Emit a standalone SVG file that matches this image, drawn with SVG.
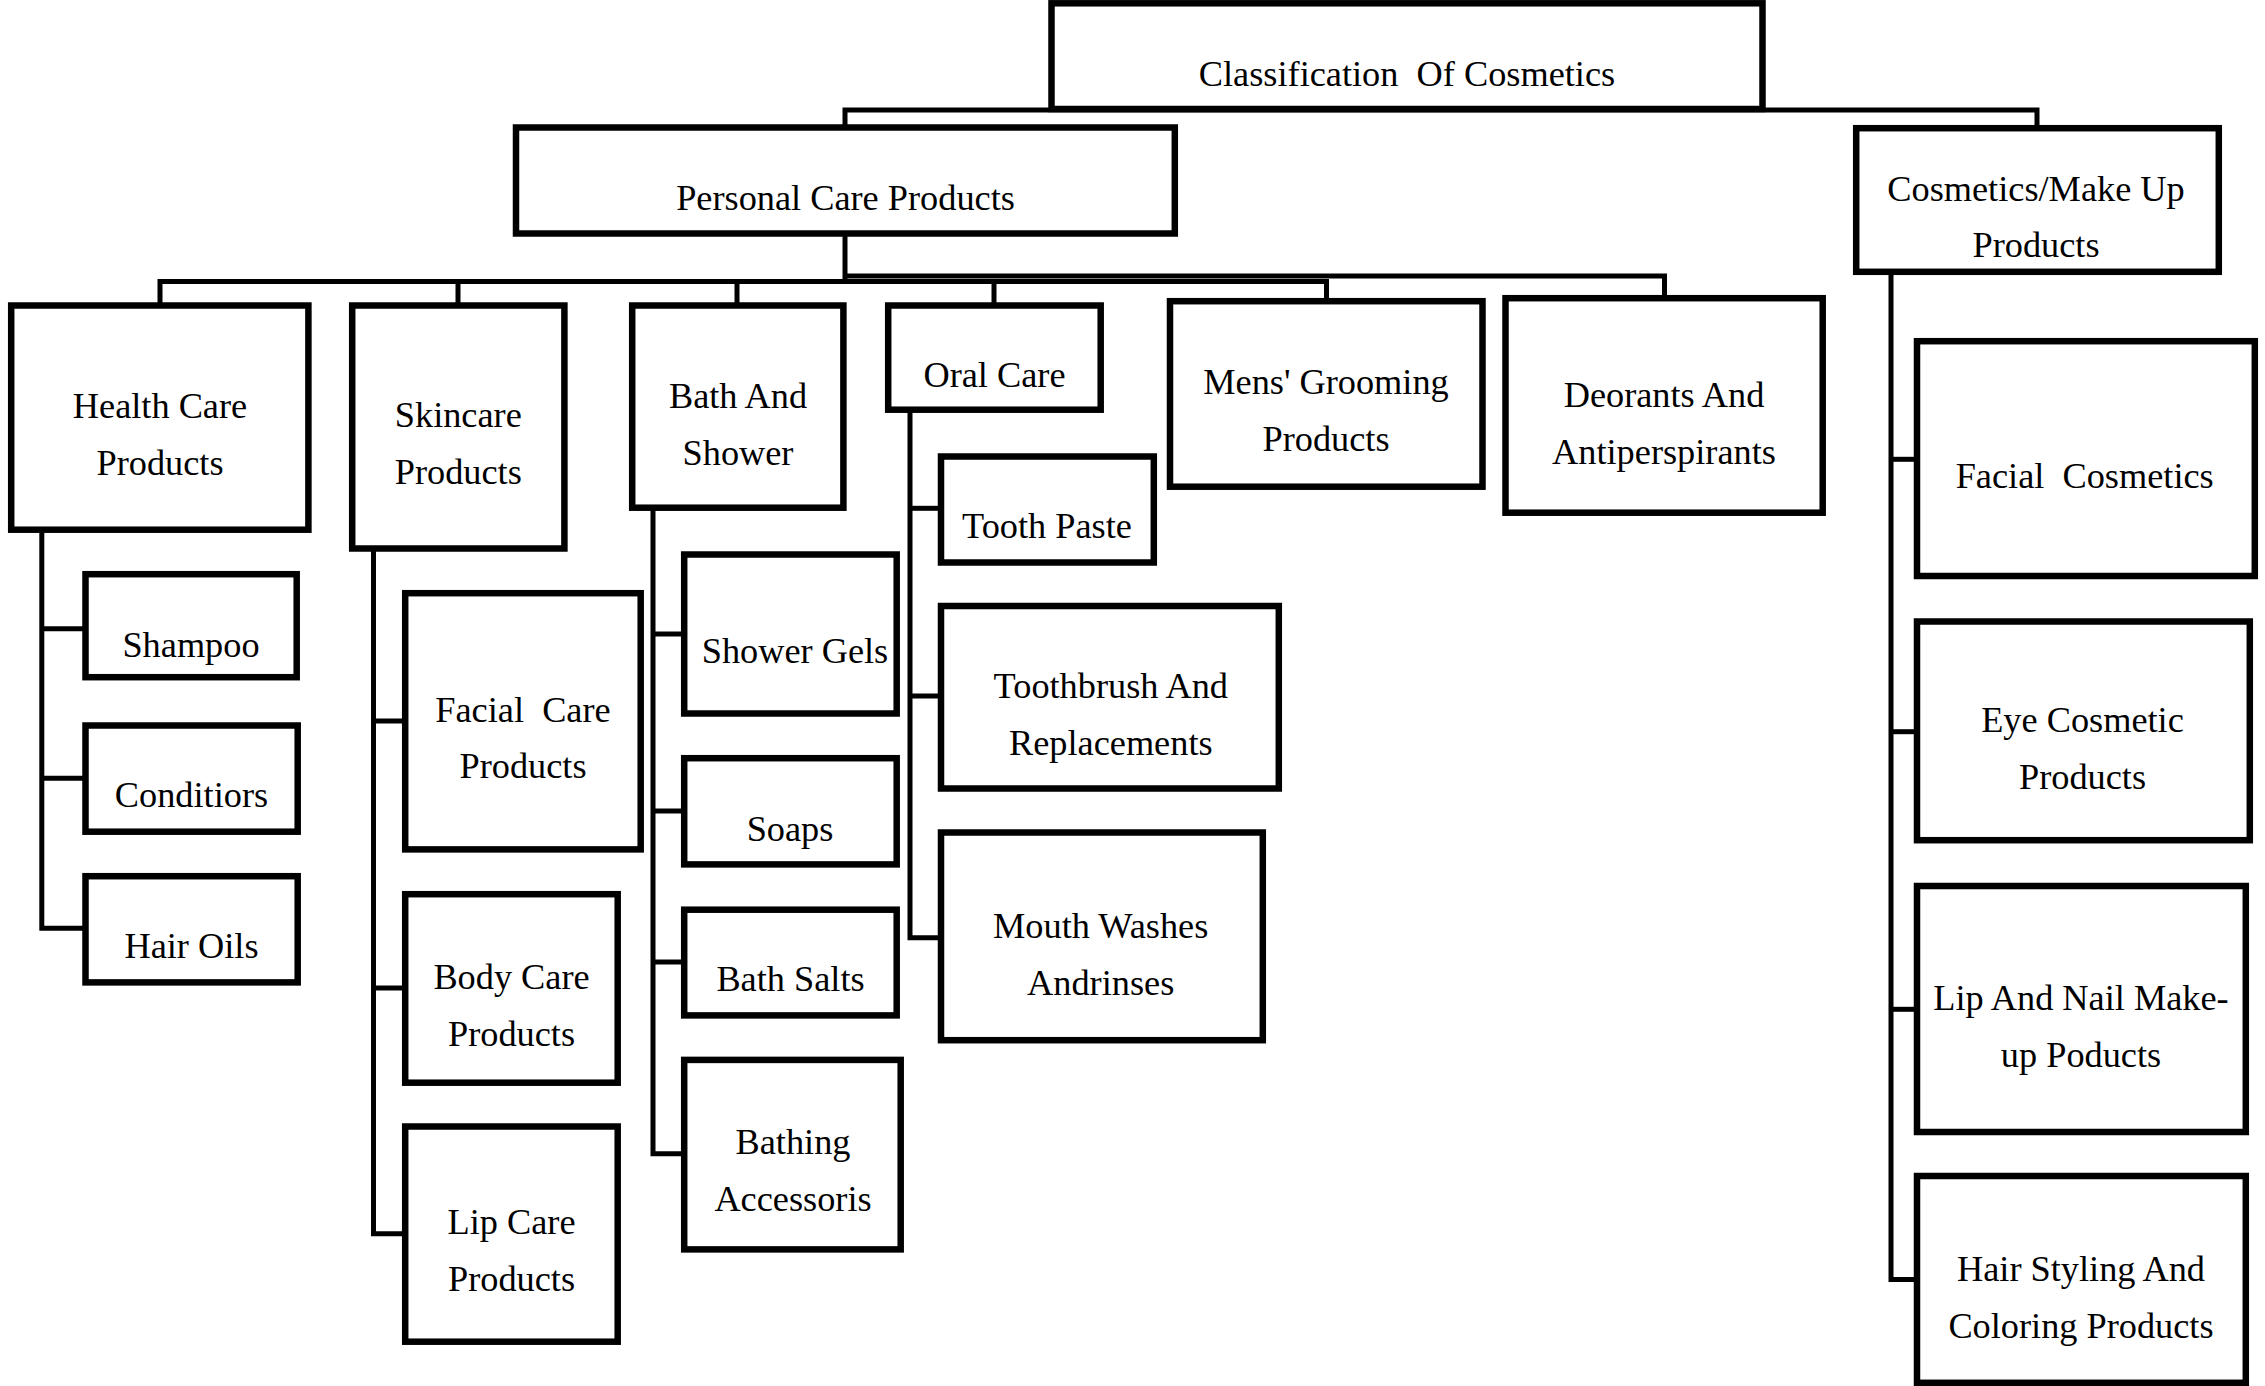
<svg xmlns="http://www.w3.org/2000/svg" width="2265" height="1386" viewBox="0 0 2265 1386">
<style>
  .box { fill: #ffffff; stroke: #000000; stroke-width: 6.5; }
  .conn { fill: none; stroke: #000000; stroke-width: 5; stroke-linejoin: miter; stroke-linecap: butt; }
  text { font-family: "Liberation Serif", "Times New Roman", serif; font-size: 36.3px; fill: #000000; text-anchor: middle; white-space: pre; }
</style>
<rect x="0" y="0" width="2265" height="1386" fill="#ffffff"/>

<g id="connectors">
  <path class="conn" d="M845,126 V110 H2037 V127"/>
  <path class="conn" d="M845,235 V283.5"/>
  <path class="conn" d="M160,304 V281.5 H1326.5 V300"/>
  <path class="conn" d="M458,281.5 V304"/>
  <path class="conn" d="M737,281.5 V304"/>
  <path class="conn" d="M994,281.5 V304"/>
  <path class="conn" d="M845,276 H1664.5 V297"/>
  <path class="conn" d="M41.8,531 V928.3 H84"/>
  <path class="conn" d="M41.8,628.7 H84"/>
  <path class="conn" d="M41.8,778.3 H84"/>
  <path class="conn" d="M373.5,550 V1233.7 H404"/>
  <path class="conn" d="M373.5,721 H404"/>
  <path class="conn" d="M373.5,988 H404"/>
  <path class="conn" d="M653,509 V1153.7 H683"/>
  <path class="conn" d="M653,634 H683"/>
  <path class="conn" d="M653,811 H683"/>
  <path class="conn" d="M653,962 H683"/>
  <path class="conn" d="M910,411 V937.8 H940"/>
  <path class="conn" d="M910,508.3 H940"/>
  <path class="conn" d="M910,696 H940"/>
  <path class="conn" d="M1891,273 V1279.4 H1916"/>
  <path class="conn" d="M1891,459.3 H1916"/>
  <path class="conn" d="M1891,731.7 H1916"/>
  <path class="conn" d="M1891,1009.3 H1916"/>
</g>

<g id="node-root">
  <rect class="box" x="1051.5" y="3.3" width="711" height="105.7"/>
  <text x="1407" y="86">Classification  Of Cosmetics</text>
</g>
<g id="node-personal-care">
  <rect class="box" x="516" y="127.5" width="658.8" height="106"/>
  <text x="845.5" y="209.5">Personal Care Products</text>
</g>
<g id="node-cosmetics-makeup">
  <rect class="box" x="1856.2" y="128.2" width="362.6" height="143.6"/>
  <text x="2036" y="201">Cosmetics/Make Up</text>
  <text x="2036" y="257">Products</text>
</g>

<g id="node-health-care">
  <rect class="box" x="11.2" y="305.5" width="297.2" height="224.2"/>
  <text x="160" y="418">Health Care</text>
  <text x="160" y="475">Products</text>
</g>
<g id="node-skincare">
  <rect class="box" x="352.2" y="305.5" width="212.2" height="243"/>
  <text x="458.3" y="427">Skincare</text>
  <text x="458.3" y="484">Products</text>
</g>
<g id="node-bath-shower">
  <rect class="box" x="632.2" y="305.5" width="211.2" height="202.2"/>
  <text x="738" y="408">Bath And</text>
  <text x="738" y="465">Shower</text>
</g>
<g id="node-oral-care">
  <rect class="box" x="888.2" y="305.5" width="212.5" height="104.2"/>
  <text x="994.5" y="387">Oral Care</text>
</g>
<g id="node-mens-grooming">
  <rect class="box" x="1170" y="301.2" width="312.5" height="185.5"/>
  <text x="1326" y="394">Mens' Grooming</text>
  <text x="1326" y="451">Products</text>
</g>
<g id="node-deodorants">
  <rect class="box" x="1505.5" y="298.2" width="317.2" height="214.5"/>
  <text x="1664" y="407">Deorants And</text>
  <text x="1664" y="464">Antiperspirants</text>
</g>

<g id="node-shampoo">
  <rect class="box" x="85.5" y="574.2" width="211.2" height="103"/>
  <text x="191" y="656.7">Shampoo</text>
</g>
<g id="node-conditiors">
  <rect class="box" x="85.5" y="725.5" width="212.2" height="106.2"/>
  <text x="191.5" y="807">Conditiors</text>
</g>
<g id="node-hair-oils">
  <rect class="box" x="85.5" y="876.2" width="212.2" height="106.2"/>
  <text x="191.5" y="958">Hair Oils</text>
</g>

<g id="node-facial-care">
  <rect class="box" x="405.2" y="593.2" width="235.5" height="256.2"/>
  <text x="523" y="721.7">Facial  Care</text>
  <text x="523" y="778.3">Products</text>
</g>
<g id="node-body-care">
  <rect class="box" x="405.2" y="894.2" width="212.5" height="188.5"/>
  <text x="511.5" y="989">Body Care</text>
  <text x="511.5" y="1046">Products</text>
</g>
<g id="node-lip-care">
  <rect class="box" x="405.2" y="1126.5" width="212.5" height="215.2"/>
  <text x="511.5" y="1234">Lip Care</text>
  <text x="511.5" y="1291">Products</text>
</g>

<g id="node-shower-gels">
  <rect class="box" x="684.2" y="554.5" width="212.5" height="159"/>
  <text x="795" y="663">Shower Gels</text>
</g>
<g id="node-soaps">
  <rect class="box" x="684.2" y="758.2" width="212.5" height="106.2"/>
  <text x="790" y="841">Soaps</text>
</g>
<g id="node-bath-salts">
  <rect class="box" x="684.2" y="909.7" width="212.5" height="105.7"/>
  <text x="790.5" y="991">Bath Salts</text>
</g>
<g id="node-bathing-accessoris">
  <rect class="box" x="684.2" y="1059.9" width="216.5" height="189.5"/>
  <text x="793" y="1154">Bathing</text>
  <text x="793" y="1211">Accessoris</text>
</g>

<g id="node-tooth-paste">
  <rect class="box" x="941" y="456.5" width="212.8" height="106"/>
  <text x="1047" y="538">Tooth Paste</text>
</g>
<g id="node-toothbrush">
  <rect class="box" x="941" y="606" width="337.8" height="182.5"/>
  <text x="1110.8" y="698">Toothbrush And</text>
  <text x="1110.8" y="755">Replacements</text>
</g>
<g id="node-mouth-washes">
  <rect class="box" x="941" y="832.5" width="321.8" height="207.7"/>
  <text x="1100.7" y="938">Mouth Washes</text>
  <text x="1100.7" y="995">Andrinses</text>
</g>

<g id="node-facial-cosmetics">
  <rect class="box" x="1917" y="341.2" width="337.8" height="234.8"/>
  <text x="2084.7" y="488">Facial  Cosmetics</text>
</g>
<g id="node-eye-cosmetic">
  <rect class="box" x="1917" y="621.5" width="332.8" height="218.7"/>
  <text x="2082.5" y="732">Eye Cosmetic</text>
  <text x="2082.5" y="789">Products</text>
</g>
<g id="node-lip-nail">
  <rect class="box" x="1917" y="886" width="328.8" height="246"/>
  <text x="2081" y="1010">Lip And Nail Make-</text>
  <text x="2081" y="1067">up Poducts</text>
</g>
<g id="node-hair-styling">
  <rect class="box" x="1917" y="1176" width="328.8" height="206.8"/>
  <text x="2081" y="1281">Hair Styling And</text>
  <text x="2081" y="1338">Coloring Products</text>
</g>
</svg>
